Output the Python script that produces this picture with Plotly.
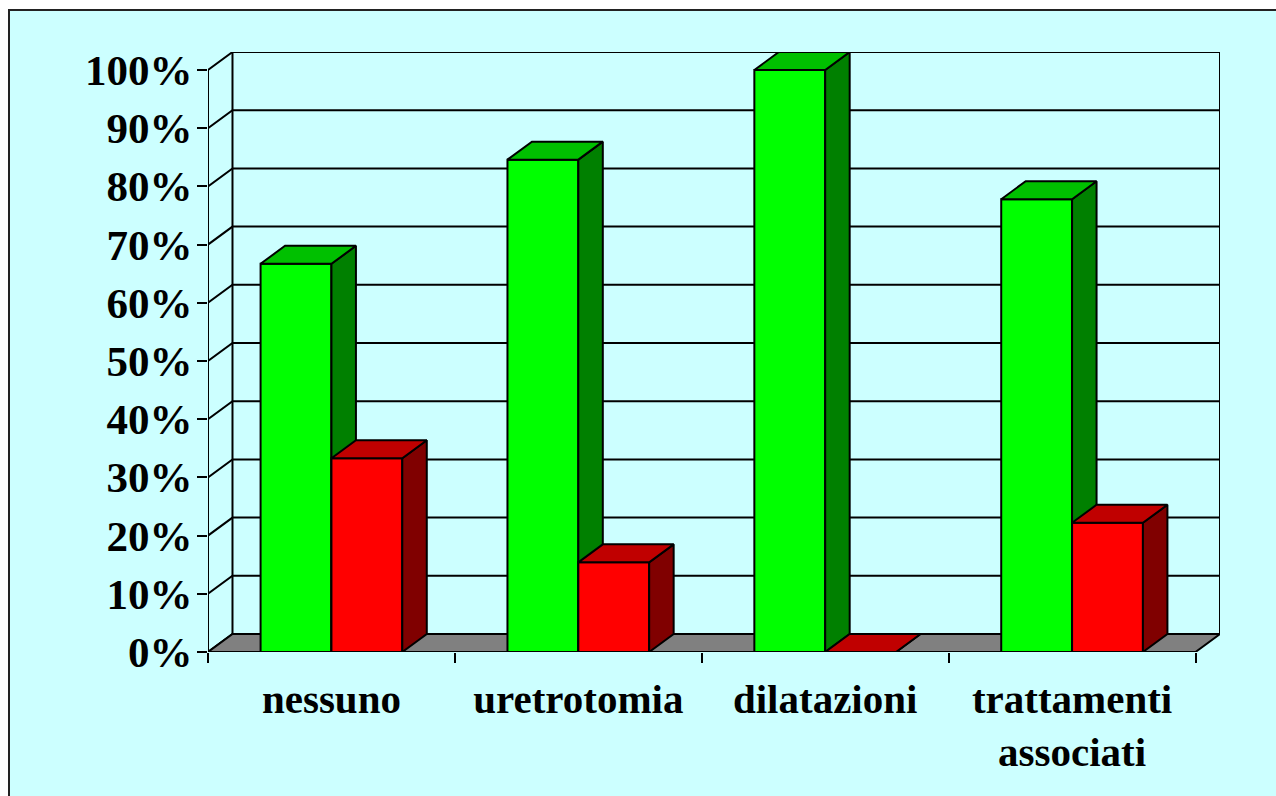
import plotly.graph_objects as go

# ---------------- data ----------------
CATEGORIES = ["nessuno", "uretrotomia", "dilatazioni", "trattamenti<br>associati"]
GREEN_VALUES = [66.7, 84.6, 100.0, 77.8]
RED_VALUES = [33.3, 15.4, 0.0, 22.2]
Y_TICKS = [0, 10, 20, 30, 40, 50, 60, 70, 80, 90, 100]
Y_TICK_LABELS = [f"{v}%" for v in Y_TICKS]

# ---------------- style ----------------
BG = "#CCFFFF"
FAMILY = "Liberation Serif, Times New Roman, serif"
Y_FONT = dict(family=FAMILY, size=43, color="black", weight="bold")
X_FONT = dict(family=FAMILY, size=41, color="black", weight="bold")
GREEN_FACES = ("#00FF00", "#008000", "#00C000")   # front, side, top
RED_FACES = ("#FF0000", "#800000", "#C00000")
FLOOR = "#808080"
DX = 0.0992      # depth offset in category units
DY = 3.093       # depth offset in percent units
BAR_W = 0.287
LW = 2

N = len(CATEGORIES)
fig = go.Figure()


def poly(xs, ys, fill, width=LW):
    fig.add_trace(go.Scatter(
        x=xs + [xs[0]], y=ys + [ys[0]], mode="lines", fill="toself",
        fillcolor=fill, line=dict(color="black", width=width),
        hoverinfo="skip", showlegend=False))


def line(xs, ys, width=LW):
    fig.add_trace(go.Scatter(
        x=xs, y=ys, mode="lines", line=dict(color="black", width=width),
        hoverinfo="skip", showlegend=False))


# back wall gridlines + left wall diagonals
for v in Y_TICKS:
    line([0, DX, N + DX], [v, v + DY, v + DY])
line([DX, DX], [DY, 100 + DY])
line([N + DX, N + DX], [DY, 100 + DY])
line([0, 0], [0, 100])

# floor
poly([0, N, N + DX, DX], [0, 0, DY, DY], FLOOR)


def box(x0, x1, v, faces):
    front, side, top = faces
    poly([x0, x1, x1, x0], [0, 0, v, v], front)
    poly([x1, x1 + DX, x1 + DX, x1], [0, DY, v + DY, v], side)
    poly([x0, x1, x1 + DX, x0 + DX], [v, v, v + DY, v + DY], top)


for i in range(N):
    c = i + 0.5
    box(c - BAR_W, c, GREEN_VALUES[i], GREEN_FACES)
    box(c, c + BAR_W, RED_VALUES[i], RED_FACES)

# outer border (decorative frame)
PLOT_L, PLOT_R, PLOT_T, PLOT_B = 208, 1220, 52, 652
pw, ph = PLOT_R - PLOT_L, PLOT_B - PLOT_T
fig.add_shape(type="rect", xref="paper", yref="paper", layer="below",
              x0=(9 - PLOT_L) / pw, x1=(1300 - PLOT_L) / pw,
              y0=(PLOT_B - 820) / ph, y1=(PLOT_B - 10) / ph,
              fillcolor=BG, line=dict(color="#222222", width=2))

fig.update_layout(
    width=1276, height=796,
    margin=dict(l=PLOT_L, r=1276 - PLOT_R, t=PLOT_T, b=796 - PLOT_B, autoexpand=False),
    paper_bgcolor="white", plot_bgcolor="rgba(0,0,0,0)",
    showlegend=False, hovermode=False,
    xaxis=dict(range=[0, N + DX], showgrid=False, zeroline=False, showline=False,
               tickvals=[i + 0.5 for i in range(N)], ticktext=CATEGORIES,
               ticks="", tickfont=X_FONT, ticklabelstandoff=19,
               minor=dict(tickvals=list(range(N + 1)), ticks="outside", ticklen=10,
                          tickwidth=2, tickcolor="black", showgrid=False)),
    yaxis=dict(range=[0, 100 + DY], showgrid=False, zeroline=False, showline=False,
               tickvals=Y_TICKS, ticktext=Y_TICK_LABELS, ticks="outside", ticklen=10,
               tickwidth=2, tickcolor="black", tickfont=Y_FONT, ticklabelstandoff=-4),
)

fig.write_html("out.html",
               config={"displayModeBar": False, "staticPlot": True},
               post_script="document.body.style.margin='0';document.body.style.overflow='hidden';")
